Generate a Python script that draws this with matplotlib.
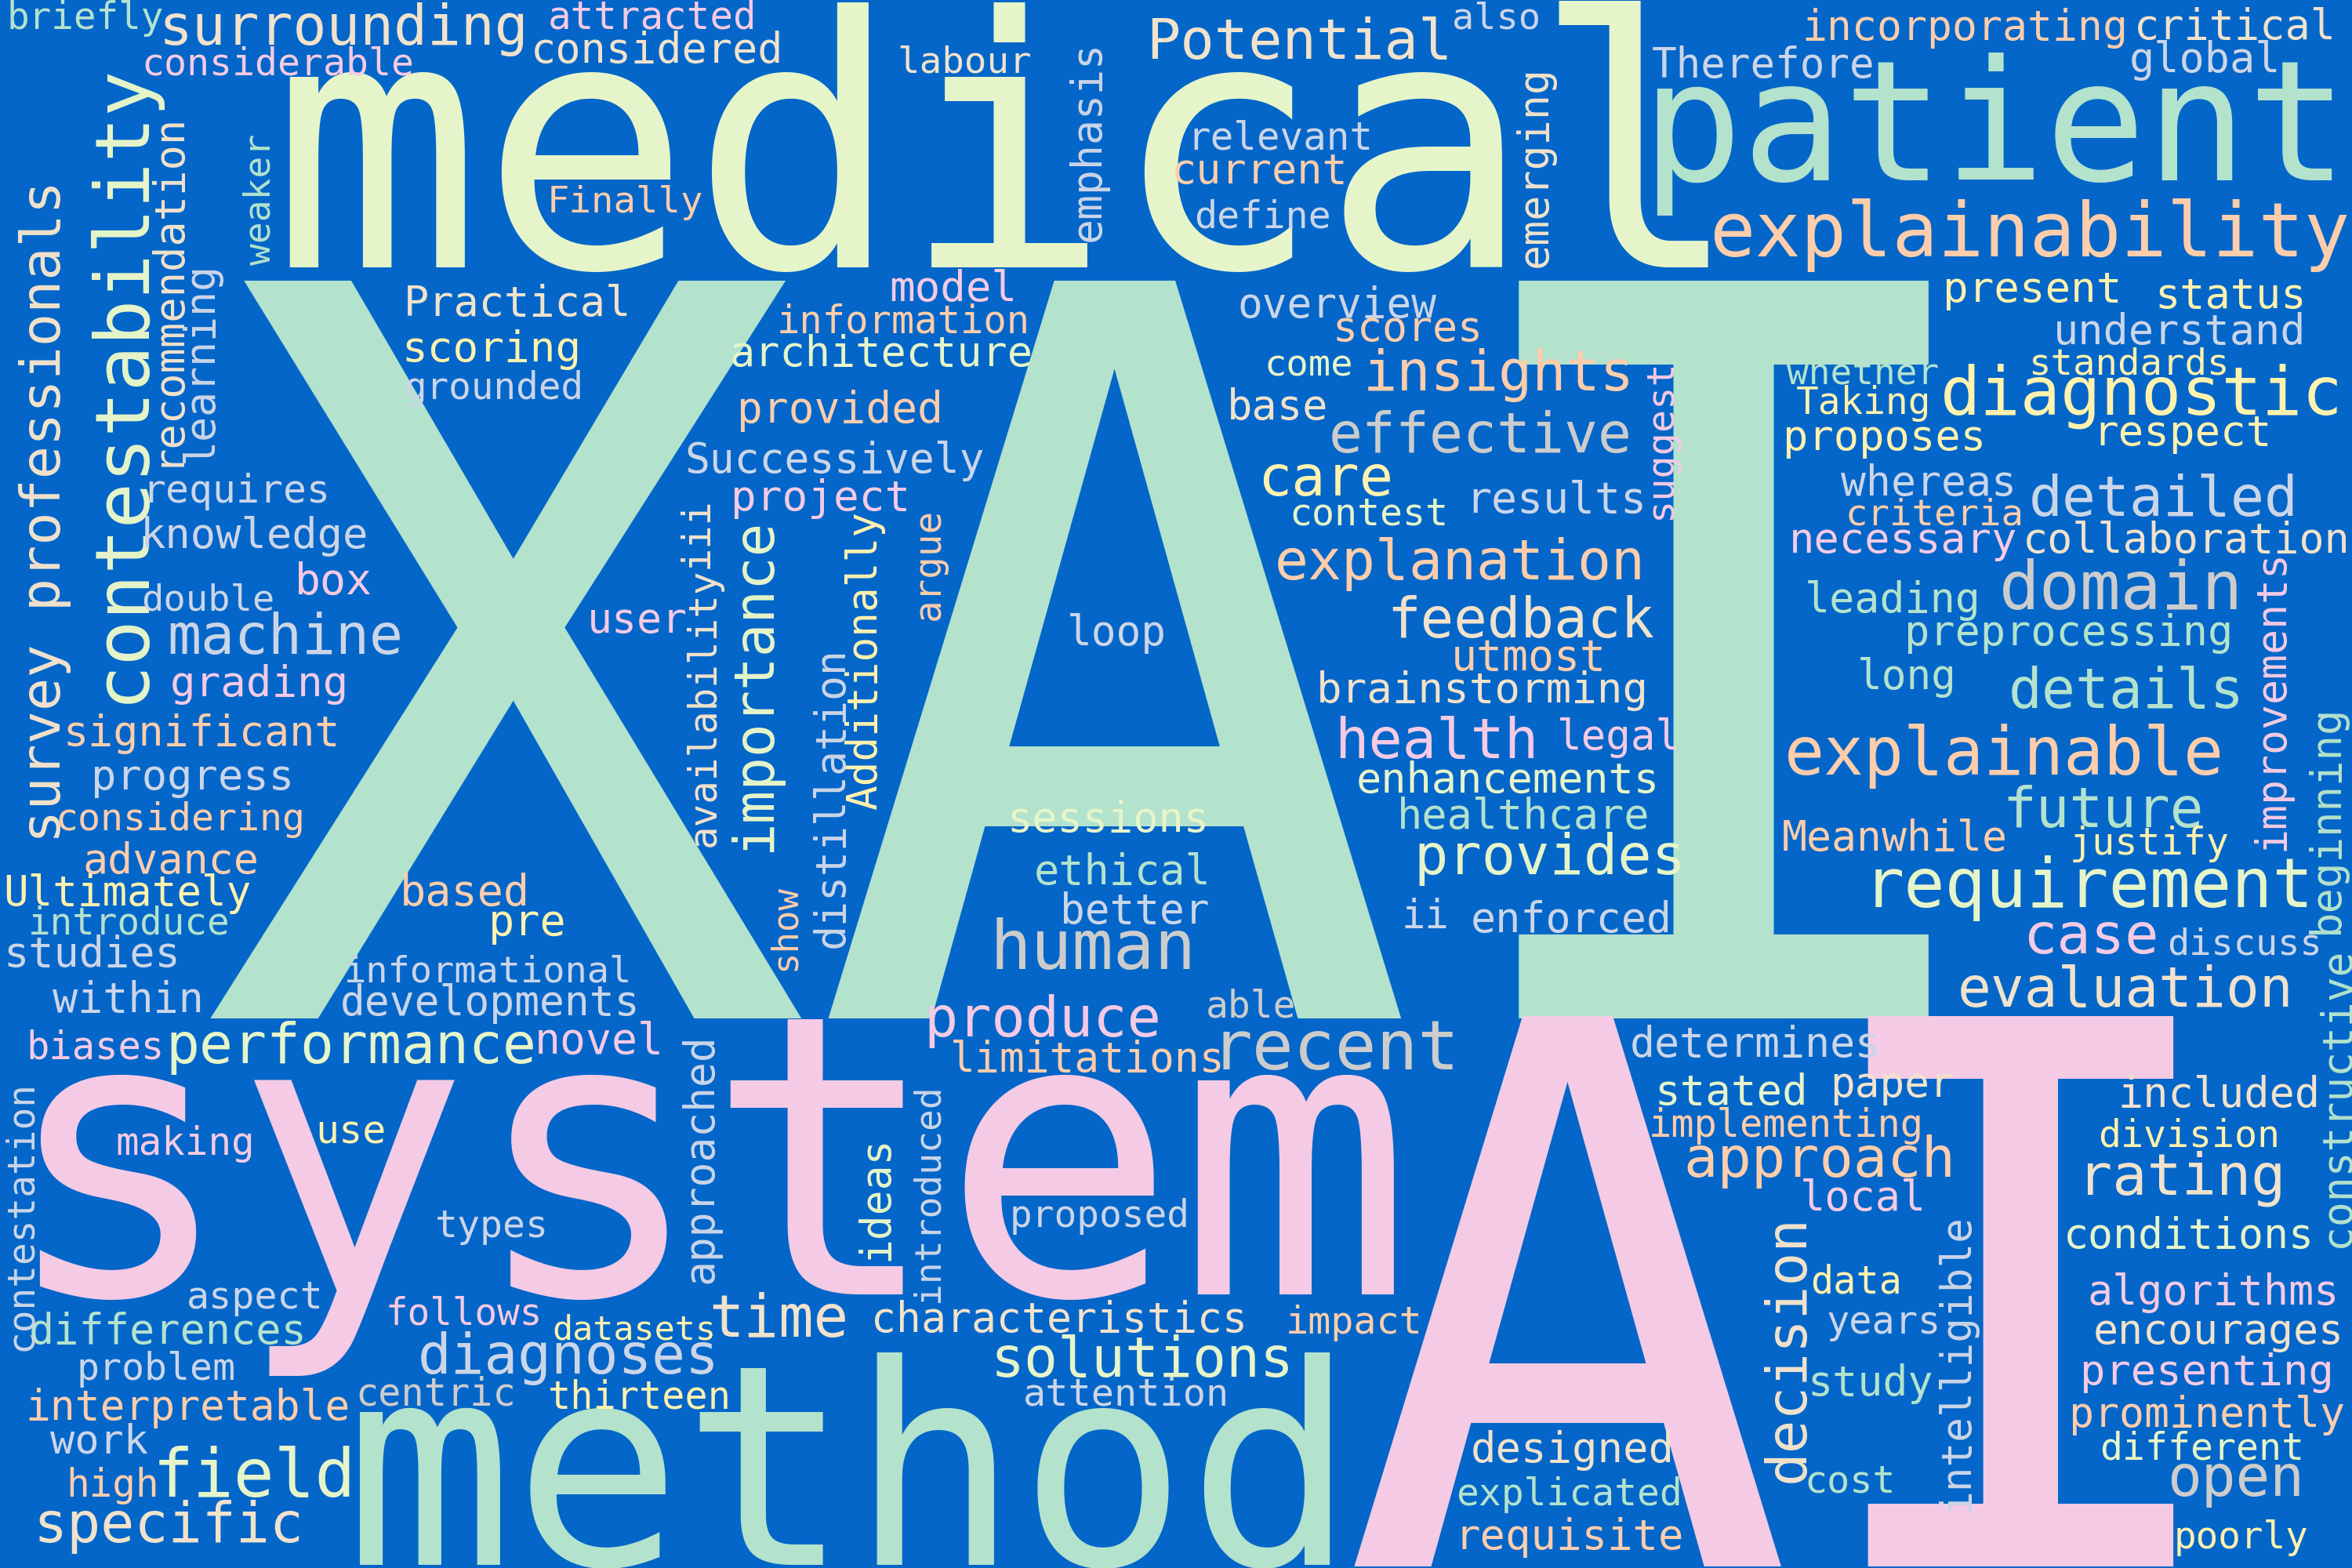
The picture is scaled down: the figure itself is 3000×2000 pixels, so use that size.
import matplotlib
matplotlib.use("Agg")
import matplotlib.pyplot as plt
from matplotlib.font_manager import FontProperties
from matplotlib.textpath import TextPath

# layout in a 1568 x 1045 frame
W, H = 1568, 1045

BACKGROUND = "#0466c8"
FONT = FontProperties(family="DejaVu Sans Mono")
PALETTE = {
    "mint": "#b3e2cd", "peach": "#fdcdac", "lavender": "#cbd5e8", "pink": "#f4cae4",
    "lime": "#e6f5c9", "yellow": "#fff2ae", "beige": "#f1e2cc", "grey": "#cccccc",
}

WORDS = [
    "XAI", "medical", "system", "method", "AI", "patient", "explainability",
    "contestability", "survey professionals", "surrounding", "diagnostic", "requirement",
    "explainable", "performance", "explanation", "recent", "human", "domain", "feedback",
    "insights", "effective", "approach", "evaluation", "solutions", "diagnoses", "field",
    "specific", "decision", "machine", "produce", "health", "detailed", "details", "rating",
    "provides", "Potential", "collaboration", "characteristics", "preprocessing", "future",
    "care", "case", "open", "interpretable", "knowledge", "significant", "considering",
    "Ultimately", "developments", "informational", "architecture", "information",
    "Successively", "brainstorming", "enhancements", "healthcare", "incorporating",
    "critical", "Therefore", "global", "present", "status", "understand", "standards",
    "whether", "Taking", "proposes", "respect", "whereas", "criteria", "necessary",
    "leading", "long", "Meanwhile", "justify", "discuss", "determines", "stated", "paper",
    "implementing", "local", "data", "years", "study", "cost", "included", "division",
    "conditions", "algorithms", "encourages", "presenting", "prominently", "different",
    "poorly", "designed", "explicated", "requisite", "briefly", "attracted", "considerable",
    "considered", "Finally", "Practical", "scoring", "grounded", "requires", "box", "double",
    "grading", "progress", "user", "labour", "also", "relevant", "current", "define", "model",
    "provided", "project", "loop", "overview", "scores", "come", "base", "contest", "results",
    "utmost", "legal", "advance", "introduce", "studies", "within", "based", "pre", "biases",
    "novel", "making", "use", "types", "aspect", "follows", "datasets", "time", "differences",
    "problem", "centric", "thirteen", "work", "high", "sessions", "ethical", "better", "ii",
    "enforced", "able", "limitations", "proposed", "impact", "attention",
    "recommendation", "learning", "weaker", "emphasis", "emerging", "Additionally", "argue",
    "distillation", "iii", "availability", "importance", "show", "suggest", "improvements",
    "beginning", "constructive", "intelligible", "contestation", "approached", "ideas",
    "introduced",
]

# horizontal words: (x left, x right, baseline, tint)
PLACE = {
    "XAI": (140, 1286, 678.7, "mint"),
    "medical": (192.7, 1138.7, 178.3, "lime"),
    "system": (26, 929, 862.7, "pink"),
    "method": (240, 886.7, 1043, "mint"),
    "AI": (902.7, 1449.3, 1044, "pink"),
    "briefly": (6.7, 108.3, 19.3, "mint"),
    "surrounding": (110, 349.3, 29.7, "beige"),
    "attracted": (366.7, 501.7, 19.3, "pink"),
    "considerable": (96.7, 275, 50, "pink"),
    "considered": (356.7, 520, 41.7, "beige"),
    "Finally": (367.7, 468.3, 141.7, "peach"),
    "Practical": (271.7, 418.3, 210.7, "beige"),
    "scoring": (270.7, 385, 240.7, "yellow"),
    "grounded": (270.7, 386.7, 266, "lavender"),
    "requires": (99.3, 217.3, 335, "lavender"),
    "knowledge": (96.7, 244, 365, "lavender"),
    "box": (199.3, 247.3, 396, "pink"),
    "double": (95.7, 181.7, 406.7, "lavender"),
    "machine": (113.3, 266.7, 436, "lavender"),
    "grading": (115, 230, 464, "pink"),
    "significant": (45, 224, 496.7, "peach"),
    "progress": (63.3, 193.3, 526, "lavender"),
    "user": (394, 457.3, 421.7, "pink"),
    "labour": (600, 686.7, 48.3, "beige"),
    "Potential": (767.7, 964.4, 39.3, "beige"),
    "also": (969.4, 1025.4, 19.3, "lavender"),
    "relevant": (796, 912.7, 99.3, "lavender"),
    "current": (783.4, 896, 122.7, "peach"),
    "define": (797.7, 886, 151.7, "lavender"),
    "model": (594.4, 675.4, 200.7, "pink"),
    "information": (520, 684.4, 221.7, "peach"),
    "architecture": (488, 686.7, 244, "lime"),
    "provided": (494, 626, 281.7, "peach"),
    "Successively": (458.3, 655.4, 315, "lavender"),
    "project": (490, 604.4, 340, "pink"),
    "loop": (713.4, 776, 430, "lavender"),
    "overview": (826.7, 957.7, 211.7, "lavender"),
    "scores": (891, 986, 227.3, "peach"),
    "come": (845.4, 901, 250.7, "lime"),
    "insights": (912, 1086, 260, "peach"),
    "base": (820.4, 883.7, 279.3, "beige"),
    "effective": (888, 1086, 301.7, "grey"),
    "care": (842, 926.7, 330, "yellow"),
    "contest": (862, 963.4, 350, "lime"),
    "results": (982, 1095, 341.7, "lavender"),
    "explanation": (852, 1094, 386, "peach"),
    "feedback": (928, 1102, 425, "beige"),
    "utmost": (970, 1068, 446.7, "peach"),
    "brainstorming": (880, 1096, 468.3, "beige"),
    "health": (893.4, 1022.7, 505, "pink"),
    "legal": (1040, 1118, 499.3, "pink"),
    "enhancements": (906, 1104, 528, "lime"),
    "incorporating": (1203.6, 1416, 26.7, "peach"),
    "critical": (1425.3, 1554.6, 26, "beige"),
    "Therefore": (1102, 1248.6, 51.7, "lavender"),
    "global": (1421.3, 1518, 48.3, "lavender"),
    "patient": (1104.6, 1554.6, 120, "mint"),
    "explainability": (1142.6, 1564.6, 170.7, "peach"),
    "present": (1298, 1412, 201, "yellow"),
    "status": (1439.3, 1534.6, 206, "yellow"),
    "understand": (1371.3, 1534.6, 229.3, "lavender"),
    "standards": (1354.6, 1483.6, 249.3, "yellow"),
    "whether": (1191.3, 1292, 256, "mint"),
    "diagnostic": (1296, 1558, 276, "yellow"),
    "Taking": (1198, 1285.3, 276, "yellow"),
    "proposes": (1191.3, 1321.3, 300, "yellow"),
    "respect": (1400.3, 1512, 296.7, "yellow"),
    "whereas": (1227, 1341.3, 330, "lavender"),
    "detailed": (1354.6, 1528.6, 344, "lavender"),
    "criteria": (1232.6, 1347, 350, "peach"),
    "necessary": (1195.3, 1343.6, 368.3, "pink"),
    "collaboration": (1351.3, 1564.6, 368.3, "beige"),
    "domain": (1335.3, 1491.3, 406, "grey"),
    "leading": (1205.3, 1318, 408.3, "mint"),
    "preprocessing": (1272, 1486, 430, "mint"),
    "long": (1240.3, 1302, 459.3, "mint"),
    "details": (1341.3, 1492.6, 471.7, "mint"),
    "explainable": (1192, 1480.3, 516, "peach"),
    "future": (1338.6, 1467, 551, "mint"),
    "Meanwhile": (1189.3, 1337, 566.7, "peach"),
    "justify": (1382, 1485.3, 569.4, "yellow"),
    "requirement": (1250.3, 1538, 604.4, "lime"),
    "case": (1352, 1437, 635.4, "pink"),
    "discuss": (1446, 1545.3, 636, "lavender"),
    "evaluation": (1307, 1525.3, 671, "beige"),
    "determines": (1088, 1251.3, 704.4, "lavender"),
    "stated": (1106, 1202.6, 736, "lime"),
    "paper": (1222.6, 1302, 731, "beige"),
    "implementing": (1101.3, 1280.3, 757.7, "peach"),
    "approach": (1124.6, 1300.3, 784.4, "peach"),
    "local": (1202, 1281.3, 806.7, "pink"),
    "data": (1208.6, 1266, 862, "yellow"),
    "years": (1218.6, 1291.3, 888.7, "lavender"),
    "study": (1208, 1288, 930, "mint"),
    "cost": (1205.3, 1261.3, 994.4, "mint"),
    "included": (1414.6, 1544.6, 737.7, "beige"),
    "division": (1400.3, 1518, 764.4, "yellow"),
    "rating": (1392, 1520.3, 796, "beige"),
    "conditions": (1378, 1540.3, 832, "lime"),
    "algorithms": (1393.6, 1557, 869.4, "pink"),
    "encourages": (1397, 1560.3, 895.4, "beige"),
    "presenting": (1389.3, 1553.6, 922.7, "pink"),
    "prominently": (1382, 1562.6, 951, "peach"),
    "different": (1401.3, 1533.6, 972.7, "lime"),
    "open": (1447, 1532.6, 996.7, "grey"),
    "poorly": (1451.3, 1538, 1032, "yellow"),
    "designed": (982, 1113.6, 974.4, "beige"),
    "explicated": (972, 1119.3, 1003.4, "mint"),
    "requisite": (975, 1121.3, 1032.7, "peach"),
    "considering": (39.3, 201.7, 553.4, "peach"),
    "advance": (56.7, 170.7, 582, "peach"),
    "Ultimately": (4, 166.7, 603.4, "yellow"),
    "introduce": (20.7, 151.7, 622.7, "mint"),
    "studies": (5, 117.3, 644.4, "lavender"),
    "within": (35, 133.3, 674.4, "lavender"),
    "based": (269.3, 350.7, 603.4, "peach"),
    "pre": (328.3, 376, 623.4, "yellow"),
    "informational": (231.7, 419.3, 654.4, "lavender"),
    "developments": (228.3, 424, 676.7, "lavender"),
    "biases": (20, 107.3, 705.4, "pink"),
    "performance": (114, 356, 708.7, "lime"),
    "novel": (359.3, 440, 702, "pink"),
    "making": (78.3, 167.3, 769.4, "pink"),
    "use": (212.7, 256, 762, "yellow"),
    "types": (291.7, 363.3, 824.4, "lavender"),
    "aspect": (126, 213.3, 872, "lavender"),
    "follows": (259.3, 359.3, 882.7, "pink"),
    "datasets": (369.3, 475, 892.7, "yellow"),
    "time": (475, 563.4, 891, "beige"),
    "differences": (20.7, 201.7, 895.4, "mint"),
    "diagnoses": (280.7, 476, 915.4, "lavender"),
    "problem": (53.3, 156, 919.4, "lavender"),
    "centric": (239.3, 341.7, 936.7, "grey"),
    "thirteen": (366.7, 485, 938.7, "yellow"),
    "interpretable": (19.3, 231.7, 946, "peach"),
    "work": (33.3, 98.3, 968.7, "lavender"),
    "high": (46.7, 104, 997.7, "peach"),
    "field": (106, 233.3, 997.7, "lime"),
    "specific": (26, 199.3, 1027.7, "beige"),
    "sessions": (674.4, 803.4, 554.4, "lime"),
    "healthcare": (934, 1098, 552, "mint"),
    "provides": (946, 1120, 582.7, "lime"),
    "ethical": (691, 804.4, 589.4, "mint"),
    "better": (709.4, 805.4, 615.4, "lavender"),
    "ii": (936.7, 964.4, 618.7, "lavender"),
    "enforced": (982, 1112, 621, "lavender"),
    "human": (664.4, 793.4, 646, "grey"),
    "able": (805.4, 862.7, 677.7, "grey"),
    "produce": (619.4, 772, 691, "pink"),
    "limitations": (635.4, 813.4, 714.4, "peach"),
    "recent": (815.4, 968.7, 712.7, "grey"),
    "proposed": (675.4, 791, 817.7, "lavender"),
    "characteristics": (583.4, 828.7, 887.7, "beige"),
    "impact": (859.4, 946, 888.7, "peach"),
    "solutions": (664.4, 859.4, 917.7, "lime"),
    "attention": (683.4, 816.7, 936.7, "lavender"),
}

# vertical words read bottom to top: (y bottom, y top, x of baseline, tint)
UPRIGHT = {
    "survey professionals": (557.7, 123.3, 40, "beige"),
    "contestability": (464, 43.3, 95, "lime"),
    "recommendation": (306, 76.7, 118.3, "beige"),
    "learning": (306, 176.7, 141.7, "lavender"),
    "weaker": (176.7, 90, 180, "mint"),
    "emphasis": (159.3, 30, 733.4, "lavender"),
    "emerging": (176.7, 46.7, 1031, "beige"),
    "Additionally": (539.4, 341.7, 584.4, "yellow"),
    "argue": (411.7, 340, 626, "peach"),
    "distillation": (630, 433.3, 562, "lavender"),
    "iii": (376.7, 333.3, 472, "beige"),
    "availability": (562.7, 380, 476.7, "beige"),
    "importance": (564.4, 346.7, 513.3, "lime"),
    "show": (644.4, 589.4, 530, "peach"),
    "suggest": (343.3, 241.7, 1113.6, "pink"),
    "improvements": (564.4, 368.3, 1522, "pink"),
    "beginning": (619.4, 471.7, 1558.6, "mint"),
    "constructive": (828.7, 632.7, 1566, "mint"),
    "decision": (986, 812.7, 1202.6, "beige"),
    "intelligible": (1005.4, 810, 1312, "lavender"),
    "contestation": (897.7, 722, 20.7, "lavender"),
    "approached": (853.4, 691, 475, "lavender"),
    "ideas": (837.7, 759.4, 592, "lime"),
    "introduced": (866, 724.4, 625.4, "lavender"),
}

fig = plt.figure(figsize=(30, 20), dpi=100, facecolor=BACKGROUND)
ax = fig.add_axes([0, 0, 1, 1])
ax.set_xlim(0, W)
ax.set_ylim(H, 0)
ax.set_axis_off()

px_per_unit = fig.bbox.width / W   # output pixels per layout unit
px_per_pt = fig.dpi / 72

for word in WORDS:
    vertical = word in UPRIGHT
    if vertical:
        y_bottom, y_top, x_base, tint = UPRIGHT[word]
        span = y_bottom - y_top
    else:
        x_left, x_right, y_base, tint = PLACE[word]
        span = x_right - x_left

    # ink extent of the word at 100 pt, so the glyphs (not the advance box) fill the span
    ink = TextPath((0, 0), word, size=100, prop=FONT).get_extents()
    size = 100 * span * px_per_unit / (ink.width * px_per_pt)
    lead = ink.x0 * size / 100 * px_per_pt / px_per_unit

    if vertical:
        x, y, angle = x_base, y_bottom + lead, 90
    else:
        x, y, angle = x_left - lead, y_base, 0

    ax.text(x, y, word, fontsize=size, fontproperties=FONT, color=PALETTE[tint],
            ha="left", va="baseline", rotation=angle, rotation_mode="anchor")

fig.savefig("out.png", dpi=100, facecolor=BACKGROUND)
